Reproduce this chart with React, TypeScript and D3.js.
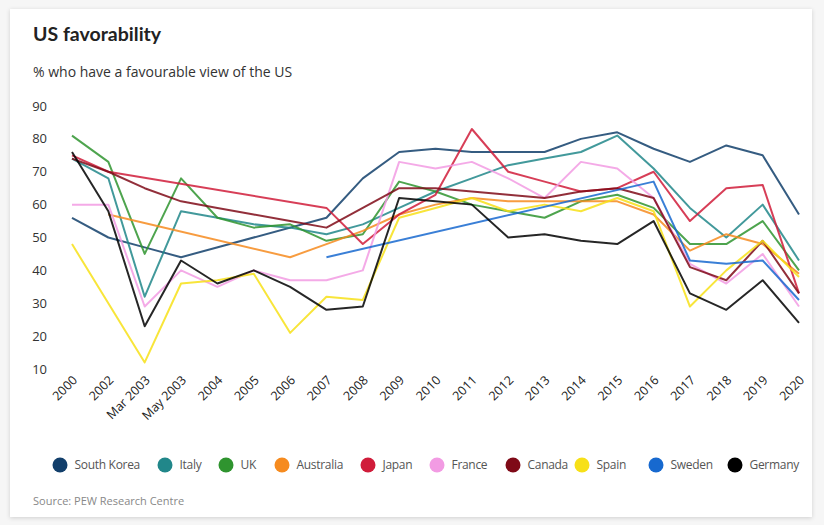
import React from "react";
import * as d3 from "d3";

const categories = ["2000","2002","Mar 2003","May 2003","2004","2005","2006","2007","2008","2009","2010","2011","2012","2013","2014","2015","2016","2017","2018","2019","2020"];
const yTicks = [10, 20, 30, 40, 50, 60, 70, 80, 90];

const southKorea = [56, 50, 47, 44, null, null, null, 56, 68, 76, 77, 76, 76, 76, 80, 82, 77, 73, 78, 75, 57];
const italy = [74, 68, 32, 58, 56, 54, 53, 51, 54, 59, 64, 68, 72, 74, 76, 81, 71, 59, 50, 60, 43];
const uk = [81, 73, 45, 68, 56, 53, 54, 49, 51, 67, 64, 60, 58, 56, 61, 63, 59, 48, 48, 55, 40];
const australia = [null, 57, null, null, null, null, 44, 48, 52, 57, 60, 62, 61, 61, 61, 61, 57, 46, 51, 48, 39];
const japan = [75, 70, null, null, null, null, null, 59, 48, 57, 63, 83, 70, 67, 64, 65, 70, 55, 65, 66, 33];
const france = [60, 60, 29, 40, 35, 40, 37, 37, 40, 73, 71, 73, 68, 62, 73, 71, 62, 42, 36, 45, 29];
const canada = [74, 70, 65, 61, 59, 57, 55, 53, 59, 65, 65, 64, 63, 62, 64, 65, 62, 41, 37, 49, 33];
const spain = [48, null, 12, 36, 37, 39, 21, 32, 31, 56, 59, 62, 58, 60, 58, 62, 58, 29, 40, 49, 38];
const sweden = [null, null, null, null, null, null, null, 44, null, null, null, null, null, null, null, null, 67, 43, 42, 43, 31];
const germany = [76, 58, 23, 43, 36, 40, 35, 28, 29, 62, 61, 60, 50, 51, 49, 48, 55, 33, 28, 37, 24];

const seriesNames = ["South Korea", "Italy", "UK", "Australia", "Japan", "France", "Canada", "Spain", "Sweden", "Germany"];
const seriesValues = [southKorea, italy, uk, australia, japan, france, canada, spain, sweden, germany];
const seriesColors = ["#123f6b", "#21878a", "#2f942f", "#f68b1f", "#d01c3a", "#f29be3", "#7f0a17", "#f7e018", "#1769cf", "#000000"];

const FONT = "'Open Sans', sans-serif";

export default function App() {
  const W = 824, H = 525;
  const x = d3.scalePoint<string>().domain(categories).range([72, 799]);
  const y = d3.scaleLinear().domain([10, 90]).range([369, 106]);

  const line = d3
    .line<{ c: string; v: number }>()
    .x((d) => x(d.c) as number)
    .y((d) => y(d.v));

  const legendX = [60, 165, 226, 282, 368, 437, 513, 582, 656, 735];

  return (
    <svg
      width={W}
      height={H}
      style={{ position: "absolute", left: 0, top: 0, background: "#f6f6f6" }}
    >
      <defs>
        <filter id="sh" x="-5%" y="-5%" width="110%" height="110%">
          <feDropShadow dx="0" dy="1" stdDeviation="2" floodColor="#000" floodOpacity="0.16" />
        </filter>
      </defs>
      <rect x={10} y={9} width={802} height={508} fill="#fff" filter="url(#sh)" />

      <text x={33} y={41} fontFamily="Lato, sans-serif" fontWeight={700} fontSize={19.5} fill="#222">
        US favorability
      </text>
      <text x={33} y={77} fontFamily={FONT} fontSize={14} fill="#333">
        % who have a favourable view of the US
      </text>

      {yTicks.map((t) => (
        <text
          key={t}
          x={47}
          y={y(t)}
          dy="0.35em"
          textAnchor="end"
          fontFamily={FONT}
          fontSize={13}
          fill="#333"
        >
          {t}
        </text>
      ))}

      {categories.map((c) => (
        <text
          key={c}
          transform={`translate(${(x(c) as number) + 6},${381}) rotate(-45)`}
          textAnchor="end"
          fontFamily={FONT}
          fontSize={12.5}
          fill="#222"
        >
          {c}
        </text>
      ))}

      {seriesValues.map((vals, i) => {
        const pts = categories
          .map((c, j) => ({ c, v: vals[j] as number | null }))
          .filter((d) => d.v !== null) as { c: string; v: number }[];
        return (
          <path
            key={seriesNames[i]}
            d={line(pts) || ""}
            fill="none"
            stroke={seriesColors[i]}
            strokeWidth={2}
            strokeOpacity={0.85}
            strokeLinejoin="round"
          />
        );
      })}

      {seriesNames.map((n, i) => (
        <g key={n} transform={`translate(${legendX[i]},465)`}>
          <circle r={7.5} fill={seriesColors[i]} />
          <text x={14.5} dy="0.35em" fontFamily={FONT} fontSize={12} letterSpacing={-0.3} fill="#555">
            {n}
          </text>
        </g>
      ))}

      <text x={33} y={505} fontFamily={FONT} fontSize={11} fill="#888">
        Source: PEW Research Centre
      </text>
    </svg>
  );
}
